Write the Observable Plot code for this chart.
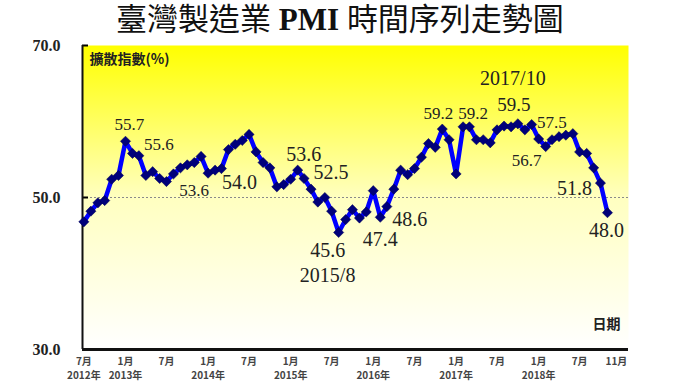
<!DOCTYPE html>
<html><head><meta charset="utf-8">
<script src="https://cdn.jsdelivr.net/npm/d3@7"></script>
<script src="https://cdn.jsdelivr.net/npm/@observablehq/plot@0.6"></script>
<style>
body{margin:0;background:#fff;}
#wrap{position:relative;width:680px;height:383px;overflow:hidden;}
#title{position:absolute;left:0;top:0;width:680px;text-align:center;font-family:"Liberation Serif","Noto Sans CJK TC",serif;font-size:31px;line-height:40px;color:#111;}
</style></head><body>
<div id="wrap"><div id="title">臺灣製造業 <b>PMI</b> 時間序列走勢圖</div></div>
<script>
// ---- data ----
const startMonth = "2012-07";
const pmi = [
  46.8, 48.2, 49.3, 49.6, 52.4, 52.9,
  57.4, 55.8, 55.5, 52.9, 53.4, 52.5, 52.1, 53.1, 53.9, 54.3, 54.6, 55.4,
  53.2, 53.6, 53.8, 56.3, 57.0, 57.5, 58.3, 56.0, 54.6, 53.9, 51.4, 51.7,
  52.4, 53.6, 52.5, 51.1, 49.4, 50.0, 48.2, 45.4, 47.1, 48.4, 47.3, 48.1,
  50.9, 47.4, 48.8, 51.1, 53.6, 53.0, 53.8, 55.3, 57.1, 56.6, 59.0, 57.6,
  53.1, 59.3, 59.3, 57.6, 57.6, 57.2, 58.9, 59.4, 59.3, 59.7, 58.9, 59.6,
  57.7, 56.7, 57.6, 58.0, 58.2, 58.4, 56.0, 55.8, 53.9, 51.9, 48.0
];
const tickMonths = ["2012-07","2013-01","2013-07","2014-01","2014-07","2015-01","2015-07","2016-01","2016-07","2017-01","2017-07","2018-01","2018-07"];
const tickMonthLabels = ["7月","1月","7月","1月","7月","1月","7月","1月","7月","1月","7月","1月","7月"];
const lastTickMonth = "2018-11";
const lastTickLabel = "11月";
const yearMonths = ["2012-07","2013-01","2014-01","2015-01","2016-01","2017-01","2018-01"];
const yearLabels = ["2012年","2013年","2014年","2015年","2016年","2017年","2018年"];
const yTicks = [30, 50, 70];
const refLevel = 50;
const annMonths = ["2013-01","2013-03","2014-02","2014-03","2015-02","2015-03","2015-08","2015-08","2016-02","2016-03","2016-11","2017-02","2017-10","2017-10","2018-06","2018-02","2018-10","2018-11"];
const annTexts = ["55.7","55.6","53.6","54.0","53.6","52.5","45.6","2015/8","47.4","48.6","59.2","59.2","2017/10","59.5","57.5","56.7","51.8","48.0"];
const yLabel = "擴散指數(%)";
const xLabel = "日期";

// ---- build ----
const parseM = d3.utcParse("%Y-%m");
const t0 = parseM(startMonth);
const data = pmi.map((v, i) => ({date: d3.utcMonth.offset(t0, i), value: v}));
const valueAt = m => { const d = parseM(m); return data.find(e => +e.date === +d).value; };
const xDomain = [d3.utcDay.offset(t0, -6), d3.utcDay.offset(d3.utcMonth.offset(t0, 79), 1)];

// label layout: [dx, dy, fontSize]
const annLayout = [
  [4,-17,17],[20,-11,17],[-21,20,17],[18,14,20],[6,-16,20],[27,-6,20],
  [-11,18,20],[-11,43,20],[0,22,20],[23,13,20],[-4,-16,17],[10,-13,17],
  [-5,-45,20],[-4,-19,19],[-21,-11,17],[-19,14,17],[-26,6,20],[-1,18,20]
];
const annMarks = annTexts.map((t, k) => Plot.text([{date: parseM(annMonths[k]), value: valueAt(annMonths[k]), label: t}], {
  x: "date", y: "value", text: "label", dx: annLayout[k][0], dy: annLayout[k][1],
  fontSize: annLayout[k][2], fontFamily: "Liberation Serif", fill: "#222", lineAnchor: "middle", textAnchor: "middle"
}));

const tickFont = {fontSize: 10, fontWeight: "bold", fill: "#444", fontFamily: "Noto Sans CJK TC", frameAnchor: "bottom", lineAnchor: "middle"};

const svg = Plot.plot({
  width: 680, height: 383,
  marginTop: 45, marginBottom: 34, marginLeft: 82, marginRight: 52,
  style: {background: "transparent", overflow: "visible"},
  x: {type: "utc", domain: xDomain, axis: null},
  y: {domain: [30, 70], axis: null},
  marks: [
    Plot.frame({fill: "url(#pmiBg)", stroke: null}),
    Plot.ruleY([refLevel], {stroke: "#8a8a8a", strokeDasharray: "2,2", strokeWidth: 1}),
    Plot.axisY(yTicks, {tickSize: 0, tickPadding: 22, tickFormat: d => d.toFixed(1), fontSize: 16, fontWeight: "bold", fontFamily: "Liberation Serif", fill: "#222", label: null}),
    Plot.axisY([50, 70], {tickSize: -6, tickFormat: () => "", label: null, strokeWidth: 2}),
    Plot.ruleX([xDomain[0]], {strokeWidth: 2, stroke: "#111"}),
    Plot.ruleY([30], {strokeWidth: 3, stroke: "#111"}),
    Plot.line(data, {x: "date", y: "value", stroke: "#0000ff", strokeWidth: 4.5}),
    Plot.dot(data, {x: "date", y: "value", symbol: "diamond2", r: 4.6, fill: "#00007a", stroke: "#000050", strokeWidth: 0.5}),
    ...annMarks,
    Plot.text([yLabel], {frameAnchor: "top-left", dx: 7, dy: 14, text: d => d, textAnchor: "start", lineAnchor: "middle", fontSize: 14, fontWeight: "bold", fill: "#222", fontFamily: "Noto Sans CJK TC"}),
    Plot.text([xLabel], {frameAnchor: "bottom-right", dx: -22, dy: -25, text: d => d, textAnchor: "middle", lineAnchor: "middle", fontSize: 14, fontWeight: "bold", fill: "#222", fontFamily: "Noto Sans CJK TC"}),
    Plot.text(tickMonths, {...tickFont, x: d => parseM(d), text: (d, i) => tickMonthLabels[i], dy: 12}),
    Plot.text([lastTickMonth], {...tickFont, x: d => parseM(d), text: () => lastTickLabel, dy: 12, dx: 9}),
    Plot.text(yearMonths, {...tickFont, x: d => parseM(d), text: (d, i) => yearLabels[i], dy: 26})
  ]
});

const defs = d3.select(svg).insert("defs", ":first-child");
const grad = defs.append("linearGradient").attr("id", "pmiBg").attr("x1", 0).attr("y1", 0).attr("x2", 0).attr("y2", 1);
grad.append("stop").attr("offset", "0%").attr("stop-color", "#ffff00");
grad.append("stop").attr("offset", "50%").attr("stop-color", "#ffffc0");
grad.append("stop").attr("offset", "100%").attr("stop-color", "#ffffff");

document.getElementById("wrap").prepend(svg);
</script>
</body></html>
